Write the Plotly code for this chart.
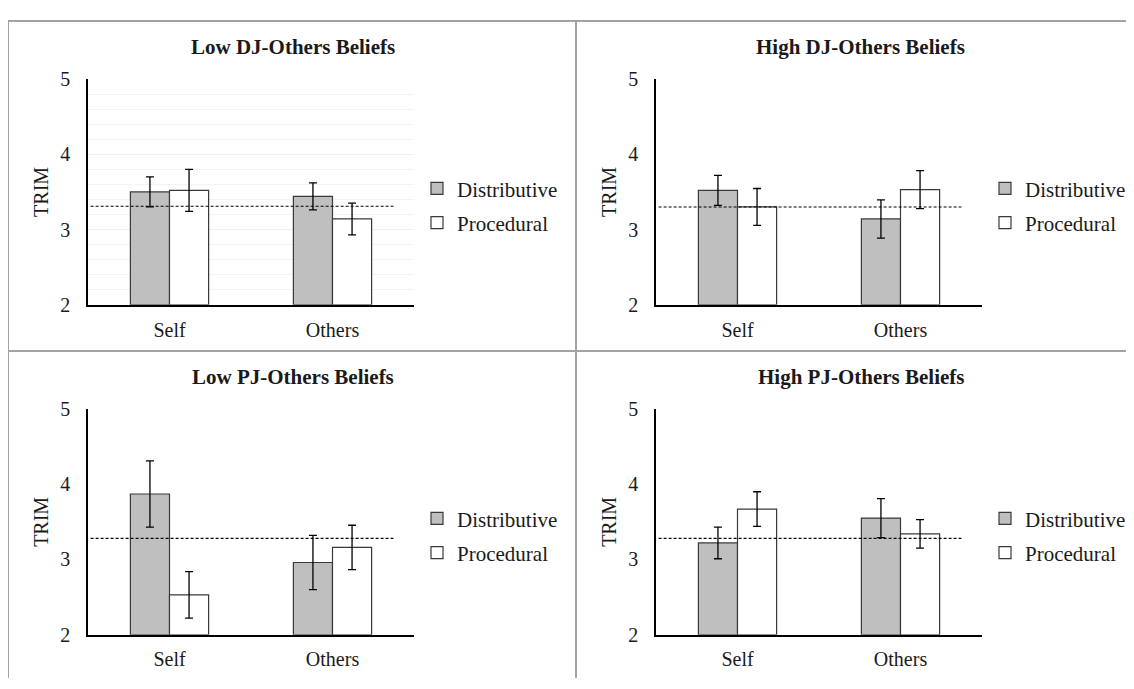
import plotly.graph_objects as go

# ---------------- data ----------------
categories = ["Self", "Others"]
series_names = ["Distributive", "Procedural"]
panel_titles = ["Low DJ-Others Beliefs", "High DJ-Others Beliefs",
                "Low PJ-Others Beliefs", "High PJ-Others Beliefs"]
y_ticks = [2, 3, 4, 5]

low_dj_distributive = [3.50, 3.44]
low_dj_distributive_err = [0.20, 0.18]
low_dj_procedural = [3.52, 3.14]
low_dj_procedural_err = [0.28, 0.21]
low_dj_reference = 3.31

high_dj_distributive = [3.52, 3.14]
high_dj_distributive_err = [0.20, 0.255]
high_dj_procedural = [3.30, 3.53]
high_dj_procedural_err = [0.245, 0.253]
high_dj_reference = 3.30

low_pj_distributive = [3.87, 2.96]
low_pj_distributive_err = [0.44, 0.36]
low_pj_procedural = [2.53, 3.16]
low_pj_procedural_err = [0.31, 0.295]
low_pj_reference = 3.28

high_pj_distributive = [3.22, 3.55]
high_pj_distributive_err = [0.21, 0.26]
high_pj_procedural = [3.67, 3.34]
high_pj_procedural_err = [0.23, 0.19]
high_pj_reference = 3.28

panels = [
    (low_dj_distributive, low_dj_distributive_err, low_dj_procedural, low_dj_procedural_err, low_dj_reference),
    (high_dj_distributive, high_dj_distributive_err, high_dj_procedural, high_dj_procedural_err, high_dj_reference),
    (low_pj_distributive, low_pj_distributive_err, low_pj_procedural, low_pj_procedural_err, low_pj_reference),
    (high_pj_distributive, high_pj_distributive_err, high_pj_procedural, high_pj_procedural_err, high_pj_reference),
]

# ---------------- layout geometry ----------------
# the page body has an 8px default margin, so the figure is 8px smaller
# and every pixel position is shifted by -8 to land on the window coordinates
OFF = 8
W, H = 1134 - OFF, 689 - OFF
FONT = "Liberation Serif"
TXT = "#1a1a1a"
fill_colors = ["#bfbfbf", "#ffffff"]

dx, dy = 568, 341  # panel offsets (px)
base_x0, base_x1 = 88, 414
base_y0, base_y1 = 70, 303.3


def px_x(v):
    return (v - OFF) / W


def px_y(v):
    return 1 - (v - OFF) / H


fig = go.Figure()
layout = {}
shapes = []
annotations = []

for i, (dist, dist_err, proc, proc_err, ref) in enumerate(panels):
    col, row = i % 2, i // 2
    ox, oy = col * dx, row * dy
    n = i + 1
    xa = "x" if n == 1 else f"x{n}"
    ya = "y" if n == 1 else f"y{n}"
    lg = "legend" if n == 1 else f"legend{n}"

    for s, (vals, errs) in enumerate([(dist, dist_err), (proc, proc_err)]):
        fig.add_trace(go.Bar(
            x=categories, y=[v - 2 for v in vals], base=2,
            name=series_names[s],
            marker=dict(color=fill_colors[s], line=dict(color="#3a3a3a", width=1.2)),
            error_y=dict(type="data", array=errs, color="#000000", thickness=1.3, width=4),
            xaxis=xa, yaxis=ya, legend=lg, legendgroup=f"{n}-{s}",
            hoverinfo="skip",
        ))

    xkey = "xaxis" if n == 1 else f"xaxis{n}"
    ykey = "yaxis" if n == 1 else f"yaxis{n}"
    layout[xkey] = dict(
        domain=[px_x(base_x0 + ox), px_x(base_x1 + ox)],
        anchor=ya, type="category",
        showline=True, linecolor="#000000", linewidth=1.5,
        showgrid=False, ticks="", ticklabelstandoff=6,
        tickfont=dict(family=FONT, size=20, color=TXT),
        fixedrange=True,
    )
    grid = n == 1
    layout[ykey] = dict(
        domain=[px_y(base_y1 + oy), px_y(base_y0 + oy)],
        anchor=xa, range=[2, 5], tickvals=y_ticks,
        showline=True, linecolor="#000000", linewidth=1.5,
        showgrid=grid, gridcolor="#efefef", gridwidth=1,
        minor=dict(dtick=0.2, showgrid=grid, gridcolor="#f3f3f3", gridwidth=1),
        zeroline=False, ticks="", ticklabelstandoff=12,
        tickfont=dict(family=FONT, size=20, color=TXT),
        title=dict(text="TRIM", standoff=6, font=dict(family=FONT, size=20, color=TXT)),
        fixedrange=True,
    )
    layout[lg] = dict(
        x=px_x(417 + ox), y=px_y(201 + oy), xanchor="left", yanchor="middle",
        font=dict(family=FONT, size=21, color=TXT),
        bgcolor="rgba(0,0,0,0)", itemwidth=30, tracegroupgap=4,
        itemclick=False, itemdoubleclick=False,
    )

    # reference (dashed) line
    shapes.append(dict(
        type="line", xref=f"{xa} domain", yref=ya,
        x0=0.008, x1=0.937, y0=ref, y1=ref,
        line=dict(color="#000000", width=1.1, dash="3px,2px"),
    ))

    annotations.append(dict(
        text=f"<b>{panel_titles[i]}</b>", xref="paper", yref="paper",
        x=px_x(292.5 + ox), y=px_y(37 + oy), xanchor="center", yanchor="middle",
        showarrow=False, font=dict(family=FONT, size=21, color=TXT),
    ))

# panel frame lines
frame = "#a3a3a3"
for (x0, y0, x1, y1) in [(8, 10, 1134, 10), (8, 10, 8, 689), (576, 10, 576, 689), (8, 351, 1134, 351)]:
    shapes.append(dict(type="line", xref="paper", yref="paper",
                       x0=px_x(x0), x1=px_x(x1), y0=px_y(y0), y1=px_y(y1),
                       line=dict(color=frame, width=2)))

fig.update_layout(
    width=W, height=H,
    margin=dict(l=0, r=0, t=0, b=0),
    paper_bgcolor="#ffffff", plot_bgcolor="#ffffff",
    barmode="group", bargap=0.52, bargroupgap=0,
    shapes=shapes, annotations=annotations,
    font=dict(family=FONT, size=20, color=TXT),
    **layout,
)

fig.write_html("out.html", config={"displayModeBar": False})
